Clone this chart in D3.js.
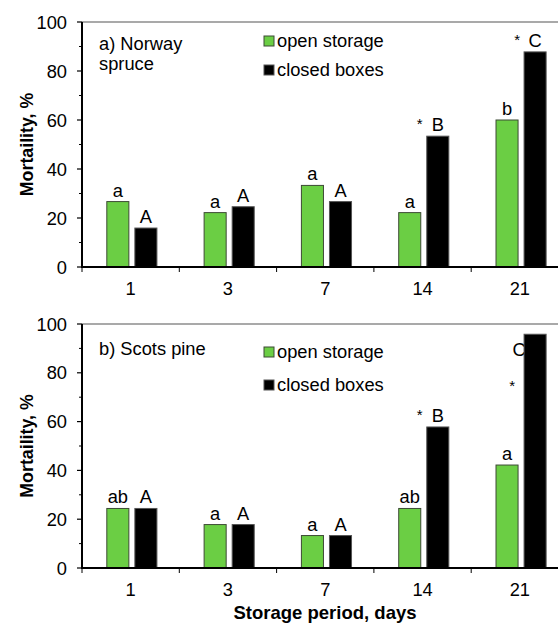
<!DOCTYPE html>
<html>
<head>
<meta charset="utf-8">
<script src="https://cdn.jsdelivr.net/npm/d3@7"></script>
<style>
  html, body { margin: 0; padding: 0; background: #ffffff; }
  svg { display: block; font-family: "Liberation Sans", Arial, sans-serif; }
</style>
</head>
<body>
<svg id="chart" width="558" height="629"></svg>
<script>
// ---------- data ----------
const categories = ["1", "3", "7", "14", "21"];
const seriesNames = ["open storage", "closed boxes"];
const yTicks = [0, 20, 40, 60, 80, 100];
const yMinorTicks = [10, 30, 50, 70, 90];

const spruceOpen   = [26.7, 22.2, 33.3, 22.2, 60.0];
const spruceClosed = [15.9, 24.6, 26.7, 53.4, 87.8];
const pineOpen     = [24.4, 17.8, 13.3, 24.4, 42.2];
const pineClosed   = [24.4, 17.8, 13.3, 57.8, 95.8];

const spruceOpenLetters   = ["a", "a", "a", "a", "b"];
const spruceClosedLetters = ["A", "A", "A", "B", "C"];
const pineOpenLetters     = ["ab", "a", "a", "ab", "a"];
const pineClosedLetters   = ["A", "A", "A", "B", "C"];
const spruceStars = [false, false, false, true, true];
const pineStars   = [false, false, false, true, true];

const spruceTitle = ["a) Norway", "spruce"];
const pineTitle = ["b) Scots pine"];
const yTitle = "Mortaility, %";
const xTitle = "Storage period, days";

// ---------- styles ----------
const colors = { "open storage": "#6bce44", "closed boxes": "#000000" };
const strokes = { "open storage": "#3d4a35", "closed boxes": "#555555" };
const FS = 18.3;

const svg = d3.select("#chart");

const x = d3.scaleBand().domain(categories).range([82, 568.5]).paddingInner(0).paddingOuter(0);
const xs = d3.scaleBand().domain(seriesNames)
  .range([x.bandwidth() * 0.255, x.bandwidth() * 0.77]).paddingInner(0.214).paddingOuter(0);

const panels = [
  { open: spruceOpen, closed: spruceClosed, openL: spruceOpenLetters, closedL: spruceClosedLetters,
    stars: spruceStars, title: spruceTitle, top: 22, bottom: 267, legendY: [47, 76], titleY: 50 },
  { open: pineOpen, closed: pineClosed, openL: pineOpenLetters, closedL: pineClosedLetters,
    stars: pineStars, title: pineTitle, top: 324, bottom: 568, legendY: [358, 391], titleY: 355 }
];

panels.forEach((p, pi) => {
  const y = d3.scaleLinear().domain([0, 100]).range([p.bottom, p.top]);
  const g = svg.append("g");

  // top frame line
  g.append("line").attr("x1", 82).attr("x2", 570).attr("y1", p.top).attr("y2", p.top)
    .attr("stroke", "#555").attr("stroke-width", 1.2);

  const rows = categories.map((c, i) => ({
    c, i,
    vals: [
      { s: "open storage", v: p.open[i], lab: p.openL[i], star: false },
      { s: "closed boxes", v: p.closed[i], lab: p.closedL[i], star: p.stars[i] }
    ]
  }));

  // letters (drawn before bars so bars can overlap them)
  rows.forEach(r => {
    r.vals.forEach(d => {
      let cx = x(r.c) + xs(d.s) + xs.bandwidth() / 2;
      let by = y(d.v) - 5;
      let starX = cx - 18, starY = by - 2;
      // Scots pine, day 21 closed boxes: labels sit behind the tall bar
      if (pi === 1 && r.c === "21" && d.s === "closed boxes") {
        cx = cx - 16; by = y(86.7);
        starX = cx - 7; starY = y(72.5);
      }
      g.append("text").attr("x", cx).attr("y", by).attr("text-anchor", "middle")
        .attr("font-size", FS).attr("fill", "#000").text(d.lab);
      if (d.star) {
        g.append("text").attr("x", starX).attr("y", starY).attr("text-anchor", "middle")
          .attr("font-size", 15).attr("fill", "#000").text("*");
      }
    });
  });

  // bars
  rows.forEach(r => {
    g.selectAll(null).data(r.vals).enter().append("rect")
      .attr("x", d => x(r.c) + xs(d.s))
      .attr("y", d => y(d.v))
      .attr("width", xs.bandwidth())
      .attr("height", d => y(0) - y(d.v))
      .attr("fill", d => colors[d.s])
      .attr("stroke", d => strokes[d.s])
      .attr("stroke-width", 1);
  });

  // y axis
  const yAxis = g.append("g");
  yAxis.append("line").attr("x1", 82).attr("x2", 82).attr("y1", y(0) + 1).attr("y2", y(100))
    .attr("stroke", "#000").attr("stroke-width", 2);
  yTicks.forEach(t => {
    yAxis.append("line").attr("x1", 77).attr("x2", 82).attr("y1", y(t)).attr("y2", y(t))
      .attr("stroke", "#000").attr("stroke-width", 1.2);
    yAxis.append("text").attr("x", 67).attr("y", y(t)).attr("dy", "0.36em")
      .attr("text-anchor", "end").attr("font-size", FS).attr("fill", "#000").text(t);
  });
  yMinorTicks.forEach(t => {
    yAxis.append("line").attr("x1", 79).attr("x2", 82).attr("y1", y(t)).attr("y2", y(t))
      .attr("stroke", "#000").attr("stroke-width", 1);
  });

  // x axis
  const xAxis = g.append("g");
  xAxis.append("line").attr("x1", 81).attr("x2", 570).attr("y1", y(0)).attr("y2", y(0))
    .attr("stroke", "#000").attr("stroke-width", 2);
  categories.forEach(c => {
    xAxis.append("line").attr("x1", x(c)).attr("x2", x(c)).attr("y1", y(0)).attr("y2", y(0) + 5)
      .attr("stroke", "#000").attr("stroke-width", 1);
    xAxis.append("text").attr("x", x(c) + x.bandwidth() / 2).attr("y", y(0) + 28)
      .attr("text-anchor", "middle").attr("font-size", FS).attr("fill", "#000").text(c);
  });

  // y title
  g.append("text").attr("transform", `translate(33,${(p.top + p.bottom) / 2}) rotate(-90)`)
    .attr("text-anchor", "middle").attr("font-size", 17.8).attr("font-weight", "bold")
    .attr("fill", "#000").text(yTitle);

  // panel title
  p.title.forEach((t, i) => {
    g.append("text").attr("x", 99).attr("y", p.titleY + i * 20).attr("font-size", FS)
      .attr("fill", "#000").text(t);
  });

  // legend
  seriesNames.forEach((s, i) => {
    const ly = p.legendY[i];
    g.append("rect").attr("x", 264).attr("y", ly - 11).attr("width", 10).attr("height", 10)
      .attr("fill", colors[s]).attr("stroke", strokes[s]).attr("stroke-width", 1);
    g.append("text").attr("x", 277).attr("y", ly).attr("font-size", FS).attr("fill", "#000").text(s);
  });
});

// x title
svg.append("text").attr("x", 325).attr("y", 619).attr("text-anchor", "middle")
  .attr("font-size", 18.5).attr("font-weight", "bold").attr("fill", "#000").text(xTitle);
</script>
</body>
</html>
